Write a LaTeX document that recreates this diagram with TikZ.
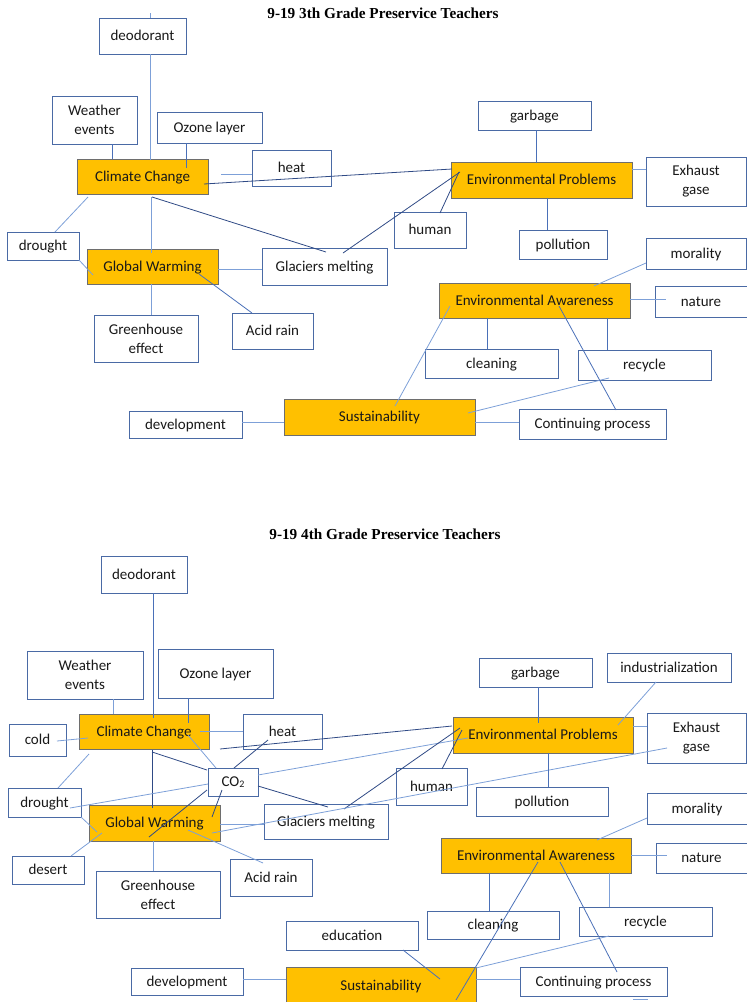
\documentclass[tikz,border=0pt]{standalone}
\usepackage{fontspec}
\setmainfont{Carlito}
\newfontfamily\titlefont{Liberation Serif}
\definecolor{boxc}{HTML}{4A6AA5}
\definecolor{keyc}{HTML}{6E6E6E}
\definecolor{gold}{HTML}{FFC000}
\definecolor{ltc}{HTML}{7DA0D8}
\definecolor{mdc}{HTML}{4A70B8}
\definecolor{dkc}{HTML}{2F4A85}
\begin{document}
\begin{tikzpicture}[x=1pt,y=-1pt,
  bx/.style={draw=boxc, line width=0.9pt, fill=white, anchor=north west, inner sep=0pt, outer sep=0pt, align=center, text=black!90, font=\fontsize{15}{19}\selectfont},
  box/.style={bx, text height=12.5pt, text depth=3.5pt},
  box2/.style={bx},
  key/.style={box, draw=keyc, fill=gold},
  ttl/.style={font=\titlefont\bfseries\fontsize{15.25}{18}\selectfont},
  lt/.style={draw=ltc, line width=0.8pt},
  md/.style={draw=mdc, line width=0.8pt},
  dk/.style={draw=dkc, line width=0.8pt}]
\useasboundingbox (0,0) rectangle (747,1002);
\clip (0,0) rectangle (747,1002);

% ================= TOP DIAGRAM =================
\node[ttl] (t1) at (383,13) {9-19 3th Grade Preservice Teachers};
\node[box, minimum width=87pt, minimum height=36pt] (deo1) at (99,18) {deodorant};
\node[box2, minimum width=85pt, minimum height=48pt] (wea1) at (52,96) {Weather\\events};
\node[box, minimum width=105pt, minimum height=31pt] (ozo1) at (157,112) {Ozone layer};
\node[key, minimum width=131pt, minimum height=35pt] (cc1) at (77,159) {Climate Change};
\node[box, minimum width=79pt, minimum height=36pt] (heat1) at (252,150) {heat};
\node[box, minimum width=113pt, minimum height=29pt] (gar1) at (478,101) {garbage};
\node[key, minimum width=181pt, minimum height=36pt] (ep1) at (451,162) {Environmental Problems};
\node[box2, minimum width=100pt, minimum height=49pt] (exh1) at (646,157) {Exhaust\\gase};
\node[box, minimum width=72pt, minimum height=36pt] (hum1) at (394,212) {human};
\node[box, minimum width=88pt, minimum height=29pt] (pol1) at (519,230) {pollution};
\node[box, minimum width=72pt, minimum height=28pt] (dro1) at (7,232) {drought};
\node[key, minimum width=131pt, minimum height=35pt] (gw1) at (87,249) {Global Warming};
\node[box, minimum width=125pt, minimum height=37pt] (gla1) at (262,248) {Glaciers melting};
\node[box2, minimum width=104pt, minimum height=47pt] (gre1) at (94,315) {Greenhouse\\effect};
\node[box, minimum width=81pt, minimum height=36pt] (aci1) at (232,313) {Acid rain};
\node[box, minimum width=100pt, minimum height=31pt] (mor1) at (646,238) {morality};
\node[key, minimum width=191pt, minimum height=35pt] (ea1) at (439,283) {Environmental Awareness};
\node[box, minimum width=92pt, minimum height=31pt] (nat1) at (655,286) {nature};
\node[box, minimum width=133pt, minimum height=29pt] (cle1) at (425,349) {cleaning};
\node[box, minimum width=133pt, minimum height=30pt] (rec1) at (578,350) {recycle};
\node[key, minimum width=191pt, minimum height=36pt] (sus1) at (284,399) {Sustainability};
\node[box, minimum width=113pt, minimum height=27pt] (dev1) at (129,411) {development};
\node[box, minimum width=147pt, minimum height=30pt] (con1) at (519,409) {Continuing process};

\coordinate (deotop1) at (150,13);
\draw[lt] (deotop1) -- ([shift={(51,0)}]deo1.north west);
\draw[lt] ([shift={(51,36)}]deo1.north west) -- ([shift={(73,1)}]cc1.north west);
\draw[md] ([shift={(60,48)}]wea1.north west) -- ([shift={(35,0)}]cc1.north west);
\draw[md] ([shift={(29,31)}]ozo1.north west) -- ([shift={(109,9)}]cc1.north west);
\draw[lt] ([shift={(-31,24)}]heat1.north west) -- ([shift={(0,24)}]heat1.north west);
\draw[dk] ([shift={(127,25)}]cc1.north west) -- ([shift={(1,7)}]ep1.north west);
\draw[md] ([shift={(58,29)}]gar1.north west) -- ([shift={(85,1)}]ep1.north west);
\draw[lt] ([shift={(181,7)}]ep1.north west) -- ([shift={(0,12)}]exh1.north west);
\draw[md] ([shift={(96,36)}]ep1.north west) -- ([shift={(28,0)}]pol1.north west);
\draw[dk] ([shift={(81,5)}]gla1.north west) -- ([shift={(9,10)}]ep1.north west);
\draw[dk] ([shift={(46,1)}]hum1.north west) -- ([shift={(8,10)}]ep1.north west);
\draw[dk] ([shift={(75,38)}]cc1.north west) -- ([shift={(64,4)}]gla1.north west);
\draw[lt] ([shift={(74,38)}]cc1.north west) -- ([shift={(64,4)}]gw1.north west);
\draw[lt] ([shift={(131,20)}]gw1.north west) -- ([shift={(0,21)}]gla1.north west);
\draw[lt] ([shift={(11,38)}]cc1.north west) -- ([shift={(48,0)}]dro1.north west);
\draw[lt] ([shift={(72,28)}]dro1.north west) -- ([shift={(6,26)}]gw1.north west);
\draw[lt] ([shift={(64,35)}]gw1.north west) -- ([shift={(57,0)}]gre1.north west);
\draw[md] ([shift={(112,25)}]gw1.north west) -- ([shift={(20,0)}]aci1.north west);
\draw[lt] ([shift={(0,25)}]mor1.north west) -- ([shift={(155,3)}]ea1.north west);
\draw[lt] ([shift={(191,16)}]ea1.north west) -- ([shift={(11,13)}]nat1.north west);
\draw[md] ([shift={(48,35)}]ea1.north west) -- ([shift={(62,0)}]cle1.north west);
\draw[md] ([shift={(168,35)}]ea1.north west) -- ([shift={(29,0)}]rec1.north west);
\draw[lt] ([shift={(113,11)}]dev1.north west) -- ([shift={(0,23)}]sus1.north west);
\draw[lt] ([shift={(191,23)}]sus1.north west) -- ([shift={(0,13)}]con1.north west);
\draw[lt] ([shift={(111,7)}]sus1.north west) -- ([shift={(11,23)}]ea1.north west);
\draw[lt] ([shift={(184,14)}]sus1.north west) -- ([shift={(31,28)}]rec1.north west);
\draw[md] ([shift={(120,23)}]ea1.north west) -- ([shift={(97,1)}]con1.north west);

% ================= BOTTOM DIAGRAM =================
\node[ttl] (t2) at (385,534) {9-19 4th Grade Preservice Teachers};
\node[box, minimum width=86pt, minimum height=37pt] (deo2) at (101,556) {deodorant};
\node[box2, minimum width=116pt, minimum height=48pt] (wea2) at (27,651) {Weather\\events};
\node[box, minimum width=115pt, minimum height=49pt] (ozo2) at (158,649) {Ozone layer};
\node[key, minimum width=130pt, minimum height=35pt] (cc2) at (79,714) {Climate Change};
\node[box, minimum width=57pt, minimum height=32pt] (cold2) at (9,724) {cold};
\node[box, minimum width=79pt, minimum height=35pt] (heat2) at (243,714) {heat};
\node[box, minimum width=50pt, minimum height=28pt] (co22) at (208,768) {CO\raisebox{-1pt}{\fontsize{10}{10}\selectfont 2}};
\node[box, minimum width=73pt, minimum height=29pt] (dro2) at (8,788) {drought};
\node[key, minimum width=131pt, minimum height=36pt] (gw2) at (89,805) {Global Warming};
\node[box, minimum width=124pt, minimum height=35pt] (gla2) at (264,804) {Glaciers melting};
\node[box, minimum width=71pt, minimum height=37pt] (hum2) at (396,768) {human};
\node[box, minimum width=72pt, minimum height=28pt] (des2) at (12,856) {desert};
\node[box2, minimum width=124pt, minimum height=47pt] (gre2) at (96,871) {Greenhouse\\effect};
\node[box, minimum width=82pt, minimum height=37pt] (aci2) at (230,859) {Acid rain};
\node[box, minimum width=113pt, minimum height=29pt] (gar2) at (479,658) {garbage};
\node[box, minimum width=124pt, minimum height=29pt] (ind2) at (607,653) {industrialization};
\node[key, minimum width=180pt, minimum height=36pt] (ep2) at (453,717) {Environmental Problems};
\node[box2, minimum width=99pt, minimum height=50pt] (exh2) at (647,713) {Exhaust\\gase};
\node[box, minimum width=132pt, minimum height=29pt] (pol2) at (476,787) {pollution};
\node[box, minimum width=100pt, minimum height=31pt] (mor2) at (647,793) {morality};
\node[key, minimum width=190pt, minimum height=35pt] (ea2) at (441,838) {Environmental Awareness};
\node[box, minimum width=91pt, minimum height=30pt] (nat2) at (656,843) {nature};
\node[box, minimum width=132pt, minimum height=28pt] (cle2) at (427,911) {cleaning};
\node[box, minimum width=133pt, minimum height=29pt] (rec2) at (579,907) {recycle};
\node[box, minimum width=132pt, minimum height=29pt] (edu2) at (286,921) {education};
\node[key, minimum width=190pt, minimum height=37pt] (sus2) at (286,967) {Sustainability};
\node[box, minimum width=112pt, minimum height=27pt] (dev2) at (131,968) {development};
\node[box, minimum width=147pt, minimum height=29pt] (con2) at (520,967) {Continuing process};

\draw[md] ([shift={(52,37)}]deo2.north west) -- ([shift={(74,4)}]cc2.north west);
\draw[lt] ([shift={(86,48)}]wea2.north west) -- ([shift={(34,0)}]cc2.north west);
\draw[md] ([shift={(30,49)}]ozo2.north west) -- ([shift={(109,9)}]cc2.north west);
\draw[lt] ([shift={(48,17)}]cold2.north west) -- ([shift={(9,24)}]cc2.north west);
\draw[lt] ([shift={(121,17)}]cc2.north west) -- ([shift={(0,17)}]heat2.north west);
\draw[lt] ([shift={(109,21)}]cc2.north west) -- ([shift={(8,0)}]co22.north west);
\draw[dk] ([shift={(25,26)}]heat2.north west) -- ([shift={(26,0)}]co22.north west);
\draw[dk] ([shift={(73,38)}]cc2.north west) -- ([shift={(-1,2)}]co22.north west);
\draw[dk] ([shift={(73,36)}]cc2.north west) -- ([shift={(63,3)}]gw2.north west);
\draw[dk] ([shift={(141,35)}]cc2.north west) -- ([shift={(-1,9)}]ep2.north west);
\draw[lt] ([shift={(50,7)}]co22.north west) -- ([shift={(15,21)}]ep2.north west);
\draw[lt] ([shift={(0,16)}]co22.north west) -- ([shift={(62,20)}]dro2.north west);
\draw[dk] ([shift={(-1,22)}]co22.north west) -- ([shift={(60,32)}]gw2.north west);
\draw[dk] ([shift={(14,22)}]co22.north west) -- ([shift={(123,12)}]gw2.north west);
\draw[dk] ([shift={(50,18)}]co22.north west) -- ([shift={(64,3)}]gla2.north west);
\draw[dk] ([shift={(80,5)}]gla2.north west) -- ([shift={(7,11)}]ep2.north west);
\draw[dk] ([shift={(46,1)}]hum2.north west) -- ([shift={(9,13)}]ep2.north west);
\draw[lt] ([shift={(123,28)}]gw2.north west) -- ([shift={(20,35)}]exh2.north west);
\draw[lt] ([shift={(131,19)}]gw2.north west) -- ([shift={(0,20)}]gla2.north west);
\draw[lt] ([shift={(10,40)}]cc2.north west) -- ([shift={(50,0)}]dro2.north west);
\draw[lt] ([shift={(73,29)}]dro2.north west) -- ([shift={(8,27)}]gw2.north west);
\draw[lt] ([shift={(59,0)}]des2.north west) -- ([shift={(13,28)}]gw2.north west);
\draw[lt] ([shift={(64,36)}]gw2.north west) -- ([shift={(57,0)}]gre2.north west);
\draw[lt] ([shift={(99,25)}]gw2.north west) -- ([shift={(33,4)}]aci2.north west);
\draw[md] ([shift={(59,29)}]gar2.north west) -- ([shift={(85,6)}]ep2.north west);
\draw[lt] ([shift={(49,29)}]ind2.north west) -- ([shift={(165,8)}]ep2.north west);
\draw[lt] ([shift={(180,9)}]ep2.north west) -- ([shift={(0,13)}]exh2.north west);
\draw[md] ([shift={(95,36)}]ep2.north west) -- ([shift={(72,0)}]pol2.north west);
\draw[lt] ([shift={(0,25)}]mor2.north west) -- ([shift={(156,2)}]ea2.north west);
\draw[lt] ([shift={(190,17)}]ea2.north west) -- ([shift={(11,12)}]nat2.north west);
\draw[md] ([shift={(48,35)}]ea2.north west) -- ([shift={(62,0)}]cle2.north west);
\draw[lt] ([shift={(168,35)}]ea2.north west) -- ([shift={(30,0)}]rec2.north west);
\draw[md] ([shift={(117,29)}]edu2.north west) -- ([shift={(154,12)}]sus2.north west);
\draw[lt] ([shift={(112,11)}]dev2.north west) -- ([shift={(0,12)}]sus2.north west);
\draw[lt] ([shift={(190,12)}]sus2.north west) -- ([shift={(0,12)}]con2.north west);
\draw[md] ([shift={(170,33)}]sus2.north west) -- ([shift={(97,24)}]ea2.north west);
\draw[lt] ([shift={(190,1)}]sus2.north west) -- ([shift={(30,29)}]rec2.north west);
\draw[md] ([shift={(119,24)}]ea2.north west) -- ([shift={(97,5)}]con2.north west);
\coordinate (stubA) at (633,999);
\coordinate (stubB) at (648,999);
\draw[lt] (stubA) -- (stubB);
\end{tikzpicture}
\end{document}
